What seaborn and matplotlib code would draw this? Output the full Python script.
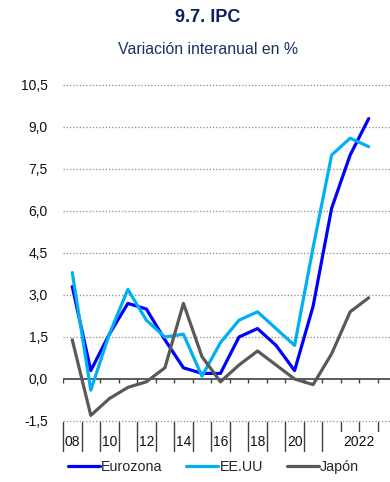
import numpy as np
import pandas as pd
import matplotlib
matplotlib.use("Agg")
import matplotlib.pyplot as plt
from matplotlib.transforms import blended_transform_factory
import seaborn as sns

# Periodos: anuales 2008-2021 y trimestrales 2022 (I-III)
periodos = ["2008", "2009", "2010", "2011", "2012", "2013", "2014", "2015",
            "2016", "2017", "2018", "2019", "2020", "2021",
            "2022T1", "2022T2", "2022T3"]
eurozona = [3.3, 0.3, 1.6, 2.7, 2.5, 1.4, 0.4, 0.2, 0.2, 1.5, 1.8, 1.2, 0.3, 2.6,
            6.1, 8.0, 9.3]
eeuu = [3.8, -0.4, 1.6, 3.2, 2.1, 1.5, 1.6, 0.1, 1.3, 2.1, 2.4, 1.8, 1.2, 4.7,
        8.0, 8.6, 8.3]
japon = [1.4, -1.3, -0.7, -0.3, -0.1, 0.4, 2.7, 0.8, -0.1, 0.5, 1.0, 0.5, 0.0, -0.2,
         0.9, 2.4, 2.9]
etiquetas_x = {0: "08", 2: "10", 4: "12", 6: "14", 8: "16", 10: "18", 12: "20", 15.5: "2022"}
ticks_y = [-1.5, 0.0, 1.5, 3.0, 4.5, 6.0, 7.5, 9.0, 10.5]

series = {"Eurozona": eurozona, "EE.UU": eeuu, "Japón": japon}
colores = {"Eurozona": "#0000FF", "EE.UU": "#00B0F0", "Japón": "#595959"}

pos = np.arange(len(periodos))
df = pd.concat([pd.DataFrame({"pos": pos, "periodo": periodos, "valor": v, "serie": k})
                for k, v in series.items()], ignore_index=True)

sns.set_theme(style="white")
plt.rcParams["font.family"] = ["Liberation Sans", "DejaVu Sans"]

fig = plt.figure(figsize=(3.9, 4.82), dpi=100)
ax = fig.add_axes([63 / 390, 1 - 421 / 482, 1 - 63 / 390, (421 - 85) / 482])

sns.lineplot(data=df, x="pos", y="valor", hue="serie", palette=colores,
             linewidth=2.3, ax=ax, legend=False, zorder=3)

ax.set_xlim(-0.5, 17.15)
ax.set_ylim(-1.5, 10.5)
ax.set_yticks(ticks_y)
ax.set_yticklabels([f"{t:.1f}".replace(".", ",") for t in ticks_y], fontsize=10, color="#111111")
ax.tick_params(axis="y", length=0, pad=11)
ax.set_xticks([])
ax.set_xlabel("")
ax.set_ylabel("")
for s in ax.spines.values():
    s.set_visible(False)

# Rejilla punteada
for t in ticks_y:
    if t != 0:
        ax.axhline(t, color="#8c8c8c", linewidth=0.9, linestyle=(0, (1, 1.6)),
                   zorder=1, clip_on=False)

# Eje en cero con marcas hacia abajo
limites = np.arange(len(periodos) + 1) - 0.5
ax.axhline(0, color="#404040", linewidth=1.2, zorder=2)
ax.vlines(limites, -0.15, 0, color="#404040", linewidth=1.0, zorder=2)

# Separadores y etiquetas bajo el eje
trans = blended_transform_factory(ax.transData, ax.transAxes)
px = 1 / 336
for b in limites:
    largo = 29 if b <= 13.5 else 9
    ax.plot([b, b], [-1 * px, -(1 + largo) * px], transform=trans, color="#404040",
            linewidth=1.0, clip_on=False)
for x, lab in etiquetas_x.items():
    ax.text(x, -21 * px, lab, transform=trans, ha="center", va="center",
            fontsize=10, color="#111111", clip_on=False)

# Leyenda
handles = [plt.Line2D([], [], color=colores[k], linewidth=2.3) for k in series]
fig.legend(handles, list(series.keys()), loc="center", bbox_to_anchor=(213.5 / 390, 1 - 467 / 482),
           ncol=3, frameon=False, fontsize=10.3, handlelength=2.24, handletextpad=0.08,
           columnspacing=1.68, borderpad=0, borderaxespad=0)

# Títulos
fig.text(208 / 390, 1 - 18 / 482, "9.7. IPC", ha="center", va="center",
         fontsize=13, fontweight="bold", color="#0b2160")
fig.text(208 / 390, 1 - 50 / 482, "Variación interanual en %", ha="center", va="center",
         fontsize=11.4, color="#1a3366")

fig.savefig("out.png", dpi=100)
